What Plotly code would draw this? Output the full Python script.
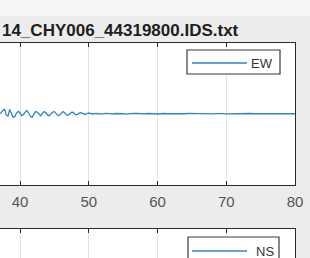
import plotly.graph_objects as go

# ---- data ----
title_text = "14_CHY006_44319800.IDS.txt"
x_ticks = [40, 50, 60, 70, 80]
x_tick_labels = ["40", "50", "60", "70", "80"]

ew_early = [0.00, 0.08, 0.28, 0.38, -0.12, -0.20, 0.36, -0.02,
            -0.30, -0.24, 0.06, 0.20, 0.08, -0.16, -0.06, 0.14,
            0.28, 0.06, -0.22, -0.30, -0.05, 0.18, 0.14, -0.06,
            -0.16, 0.02, 0.18, 0.10, -0.10, -0.18, -0.03, 0.15,
            0.18, 0.03, -0.14, -0.12, 0.06, 0.18, 0.09, -0.09,
            -0.13, 0.00, 0.13, 0.11, -0.05, -0.09, 0.02, 0.08,
            0.05, -0.03, -0.06, 0.02, 0.06, 0.02, -0.03, -0.02,
            0.03, 0.04, 0.00, -0.03, 0.00]
ew_late = [0.03, 0.01, -0.02, 0.02, 0.04, 0.00, -0.03, 0.01,
           0.03, 0.02, -0.02, -0.01, 0.02, 0.03, 0.00, -0.02,
           0.01, 0.02, 0.00, -0.01, 0.02, 0.01, -0.02, 0.00,
           0.03, 0.02, -0.01, -0.02, 0.01, 0.02, 0.00, -0.01,
           0.01, 0.03, 0.01, -0.01, 0.00, 0.02, 0.01, -0.01,
           0.00, 0.01, 0.02, 0.00, -0.01, 0.01, 0.02, 0.01,
           -0.01, 0.00, 0.01, 0.00, -0.01, 0.01, 0.00, 0.00]
ns_early = [0.00, -0.04, 0.15, 0.25, -0.20, -0.10, 0.22, 0.02,
            -0.20, -0.15, 0.10, 0.12, -0.02, -0.10, 0.04, 0.12,
            0.18, -0.02, -0.15, -0.20, 0.02, 0.12, 0.08, -0.06,
            -0.10, 0.05, 0.12, 0.04, -0.09, -0.11, 0.02, 0.10,
            0.12, -0.01, -0.10, -0.06, 0.06, 0.12, 0.04, -0.07,
            -0.09, 0.02, 0.10, 0.06, -0.05, -0.06, 0.03, 0.05,
            0.02, -0.03, -0.04, 0.02, 0.04, 0.01, -0.02, -0.02,
            0.02, 0.03, 0.00, -0.02, 0.00]
ns_late = [0.02, 0.00, -0.02, 0.01, 0.03, 0.00, -0.02, 0.01,
           0.02, 0.01, -0.01, -0.01, 0.02, 0.02, 0.00, -0.01,
           0.01, 0.01, 0.00, -0.01, 0.01, 0.01, -0.01, 0.00,
           0.02, 0.01, -0.01, -0.01, 0.01, 0.01, 0.00, -0.01,
           0.01, 0.02, 0.00, -0.01, 0.00, 0.01, 0.01, -0.01,
           0.00, 0.01, 0.01, 0.00, -0.01, 0.01, 0.01, 0.00,
           -0.01, 0.00, 0.01, 0.00, -0.01, 0.00, 0.00, 0.00]

t_start, dt_early, t_late_start, dt_late = 37.0, 0.25, 52.5, 0.5
t_ew = [t_start + dt_early * i for i in range(len(ew_early))] + \
       [t_late_start + dt_late * i for i in range(len(ew_late))]
ew = ew_early + ew_late
t_ns = [t_start + dt_early * i for i in range(len(ns_early))] + \
       [t_late_start + dt_late * i for i in range(len(ns_late))]
ns = ns_early + ns_late

# ---- figure ----
W, H = 310, 258
PLOT_W = 295
LINE_COLOR = "#2f86c2"
AX_COLOR = "#2b2b2b"
GRID_COLOR = "#e3e3e3"
BG = "#ececec"
FONT = "Liberation Sans, Arial, sans-serif"

def px(xp):
    return xp / PLOT_W

def py(yp):
    return (H - yp) / H

fig = go.Figure()
fig.add_trace(go.Scatter(x=t_ew, y=ew, mode="lines", name="EW",
                         line=dict(color=LINE_COLOR, width=1.3),
                         xaxis="x", yaxis="y", showlegend=False))
fig.add_trace(go.Scatter(x=t_ns, y=ns, mode="lines", name="NS",
                         line=dict(color=LINE_COLOR, width=1.3),
                         xaxis="x2", yaxis="y2", showlegend=False))

xrange = [40 - 20 / 6.875, 80]

fig.update_layout(
    width=W, height=H,
    margin=dict(l=0, r=W - PLOT_W, t=0, b=0),
    paper_bgcolor=BG, plot_bgcolor="white",
    font=dict(family=FONT, color="#555555", size=14),
    xaxis=dict(domain=[0, 1], range=xrange, tickvals=x_ticks, ticktext=x_tick_labels,
               showline=True, linecolor=AX_COLOR, linewidth=1, mirror="ticks",
               ticks="inside", ticklen=4, tickcolor=AX_COLOR,
               showgrid=True, gridcolor=GRID_COLOR, zeroline=False,
               anchor="y", tickfont=dict(size=15, color="#555555"), ticklabelstandoff=3),
    yaxis=dict(domain=[py(185), py(42.5)], range=[-6, 6], side="right",
               showline=True, linecolor=AX_COLOR, linewidth=1.2,
               ticks="", showticklabels=False, showgrid=False, zeroline=False, anchor="x"),
    xaxis2=dict(domain=[0, 1], range=xrange, tickvals=x_ticks, side="top",
                showline=True, linecolor=AX_COLOR, linewidth=1,
                ticks="inside", ticklen=4, tickcolor=AX_COLOR, showticklabels=False,
                showgrid=True, gridcolor=GRID_COLOR, zeroline=False, anchor="y2"),
    yaxis2=dict(domain=[0, py(229)], range=[3.55, 6], side="right",
                showline=True, linecolor=AX_COLOR, linewidth=1.2,
                ticks="", showticklabels=False, showgrid=False, zeroline=False, anchor="x2"),
)

shapes = [
    # lighter band at top of figure
    dict(type="rect", xref="paper", yref="paper", x0=-0.01, x1=1.1, y0=py(16), y1=1.01,
         fillcolor="#f6f6f6", line=dict(width=0), layer="below"),
    # EW legend
    dict(type="rect", xref="paper", yref="paper", x0=px(187), x1=px(280), y0=py(74), y1=py(50),
         fillcolor="white", line=dict(color="#3a3a3a", width=1.2), layer="above"),
    dict(type="line", xref="paper", yref="paper", x0=px(192), x1=px(247), y0=py(63), y1=py(63),
         line=dict(color=LINE_COLOR, width=1.3)),
    # NS legend
    dict(type="rect", xref="paper", yref="paper", x0=px(188), x1=px(279), y0=py(270), y1=py(237),
         fillcolor="white", line=dict(color="#3a3a3a", width=1.2), layer="above"),
    dict(type="line", xref="paper", yref="paper", x0=px(192), x1=px(247), y0=py(251), y1=py(251),
         line=dict(color=LINE_COLOR, width=1.3)),
]
fig.update_layout(shapes=shapes)

fig.add_annotation(text="<b>" + title_text + "</b>", xref="paper", yref="paper",
                   x=px(241), y=py(31), xanchor="right", yanchor="middle", showarrow=False,
                   font=dict(size=17, color="#1e1e1e", family=FONT))
fig.add_annotation(text="EW", xref="paper", yref="paper", x=px(262), y=py(63),
                   xanchor="center", yanchor="middle", showarrow=False,
                   font=dict(size=13, color="#333333"))
fig.add_annotation(text="NS", xref="paper", yref="paper", x=px(265), y=py(251),
                   xanchor="center", yanchor="middle", showarrow=False,
                   font=dict(size=13, color="#333333"))

fig.write_html("out.html",
               config={"displayModeBar": False},
               post_script="document.body.style.margin='0';document.body.style.padding='0';"
                           "document.body.style.overflow='hidden';")
